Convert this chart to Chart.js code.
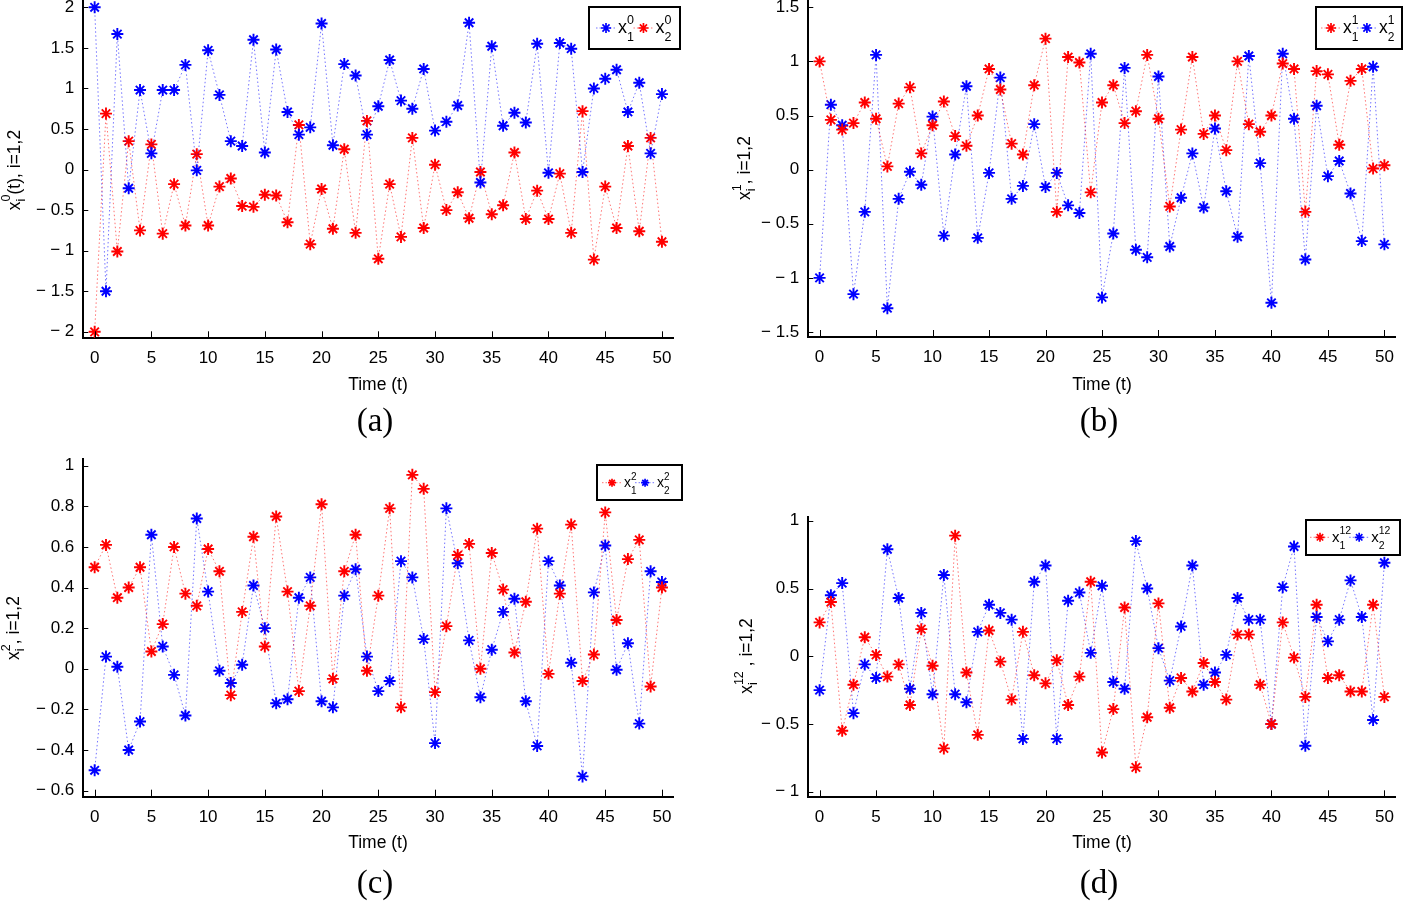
<!DOCTYPE html>
<html>
<head>
<meta charset="utf-8">
<script src="https://cdn.jsdelivr.net/npm/chart.js@4.4.0/dist/chart.umd.min.js"></script>
<style>
  body { margin: 0; background: #fff; width: 1404px; height: 901px; position: relative; overflow: hidden; }
  canvas { position: absolute; }
</style>
</head>
<body>
<canvas id="ca"></canvas>
<canvas id="cb"></canvas>
<canvas id="cc"></canvas>
<canvas id="cd"></canvas>
<script>
const time = [0,1,2,3,4,5,6,7,8,9,10,11,12,13,14,15,16,17,18,19,20,21,22,23,24,25,
  26,27,28,29,30,31,32,33,34,35,36,37,38,39,40,41,42,43,44,45,46,47,48,49,50];
const xTicks = [0, 5, 10, 15, 20, 25, 30, 35, 40, 45, 50];

// (a) x^0
const x1_0 = [2.0, -1.5, 1.67, -0.23, 0.98, 0.2, 0.98, 0.98, 1.29, -0.01, 1.47, 0.92, 0.35, 0.29, 1.6, 0.21,
  1.48, 0.71, 0.43, 0.52, 1.8, 0.3, 1.3, 1.16, 0.43, 0.78, 1.35, 0.85, 0.75, 1.24, 0.48, 0.59, 0.79, 1.81,
  -0.16, 1.52, 0.54, 0.7, 0.58, 1.55, -0.04, 1.56, 1.49, -0.03, 1.0, 1.12, 1.23, 0.71, 1.07, 0.2, 0.93];
const x2_0 = [-2.0, 0.69, -1.01, 0.35, -0.75, 0.31, -0.79, -0.18, -0.69, 0.19, -0.69, -0.21, -0.11, -0.45, -0.46, -0.31,
  -0.32, -0.65, 0.55, -0.92, -0.24, -0.73, 0.25, -0.78, 0.6, -1.1, -0.18, -0.83, 0.39, -0.72, 0.06, -0.5, -0.28, -0.6,
  -0.03, -0.55, -0.44, 0.21, -0.61, -0.26, -0.61, -0.05, -0.78, 0.72, -1.11, -0.21, -0.72, 0.29, -0.76, 0.39, -0.89];
const yTicksA = [-2, -1.5, -1, -0.5, 0, 0.5, 1, 1.5, 2];

// (b) x^1
const x1_1 = [1.0, 0.46, 0.37, 0.43, 0.62, 0.47, 0.03, 0.61, 0.76, 0.15, 0.41, 0.63, 0.31, 0.22, 0.5, 0.93,
  0.74, 0.24, 0.14, 0.78, 1.21, -0.39, 1.04, 0.99, -0.21, 0.62, 0.78, 0.43, 0.54, 1.06, 0.47, -0.34, 0.37, 1.04,
  0.33, 0.5, 0.18, 1.0, 0.42, 0.35, 0.5, 0.98, 0.93, -0.39, 0.91, 0.88, 0.23, 0.82, 0.93, 0.01, 0.04];
const x2_1 = [-1.0, 0.6, 0.41, -1.15, -0.39, 1.06, -1.28, -0.27, -0.02, -0.14, 0.49, -0.61, 0.14, 0.77, -0.63, -0.03,
  0.85, -0.27, -0.15, 0.42, -0.16, -0.03, -0.33, -0.4, 1.07, -1.18, -0.59, 0.94, -0.74, -0.81, 0.86, -0.71, -0.26, 0.15,
  -0.35, 0.38, -0.2, -0.62, 1.05, 0.06, -1.23, 1.07, 0.47, -0.83, 0.59, -0.06, 0.08, -0.22, -0.66, 0.95, -0.69];
const yTicksB = [-1.5, -1, -0.5, 0, 0.5, 1, 1.5];

// (c) x^2
const x1_2 = [0.5, 0.61, 0.35, 0.4, 0.5, 0.085, 0.22, 0.6, 0.37, 0.31, 0.59, 0.48, -0.13, 0.28, 0.65, 0.11,
  0.75, 0.38, -0.11, 0.31, 0.81, -0.05, 0.48, 0.66, -0.01, 0.36, 0.79, -0.19, 0.955, 0.886, -0.115, 0.21, 0.56, 0.615,
  0.0, 0.57, 0.39, 0.08, 0.33, 0.69, -0.025, 0.37, 0.71, -0.06, 0.07, 0.77, 0.24, 0.54, 0.635, -0.087, 0.4];
const x2_2 = [-0.5, 0.06, 0.01, -0.4, -0.26, 0.66, 0.11, -0.03, -0.23, 0.74, 0.38, -0.01, -0.07, 0.02, 0.41, 0.2,
  -0.17, -0.15, 0.35, 0.45, -0.16, -0.19, 0.36, 0.49, 0.06, -0.11, -0.06, 0.53, 0.45, 0.146, -0.366, 0.79, 0.52, 0.14,
  -0.14, 0.094, 0.28, 0.345, -0.16, -0.38, 0.53, 0.41, 0.03, -0.53, 0.376, 0.607, -0.005, 0.126, -0.27, 0.48, 0.427];
const yTicksC = [-0.6, -0.4, -0.2, 0, 0.2, 0.4, 0.6, 0.8, 1];

// (d) x^12
const x1_12 = [0.25, 0.4, -0.55, -0.21, 0.14, 0.01, -0.15, -0.06, -0.36, 0.2, -0.07, -0.68, 0.89, -0.12, -0.58, 0.19,
  -0.04, -0.32, 0.18, -0.14, -0.2, -0.03, -0.36, -0.15, 0.55, -0.71, -0.39, 0.36, -0.82, -0.45, 0.39, -0.38, -0.16, -0.26,
  -0.05, -0.19, -0.32, 0.16, 0.16, -0.21, -0.5, 0.25, -0.01, -0.3, 0.38, -0.16, -0.14, -0.26, -0.26, 0.38, -0.3];
const x2_12 = [-0.25, 0.45, 0.54, -0.42, -0.06, -0.16, 0.79, 0.43, -0.24, 0.32, -0.28, 0.6, -0.28, -0.34, 0.18, 0.38,
  0.32, 0.27, -0.61, 0.55, 0.67, -0.61, 0.41, 0.47, 0.025, 0.52, -0.19, -0.24, 0.85, 0.5, 0.06, -0.18, 0.22, 0.67,
  -0.21, -0.12, 0.01, 0.43, 0.27, 0.27, -0.5, 0.51, 0.81, -0.66, 0.29, 0.11, 0.27, 0.56, 0.29, -0.47, 0.69];
const yTicksD = [-1, -0.5, 0, 0.5, 1];

const RED = '#ff0000', BLUE = '#0000ff';
const SANS = '"Liberation Sans", Arial, sans-serif';

// page layout of the four panels
const panels = [
  { id: 'ca', cx: 0, cy: -20, w: 702, h: 480, L: 83.3, T: 0, R: 673.3, B: 338.3, ymin: -2.08, ymax: 2.09, yTicks: yTicksA,
    series: [{ data: x1_0, color: BLUE, sub: '1', sup: '0' }, { data: x2_0, color: RED, sub: '2', sup: '0' }],
    ySup: '0', yRest: '(t), i=1,2', yTitle: [19.5, 170], xTitle: [378, 385], caption: '(a)', cap: [375, 422],
    legend: { x: 589, y: 7, w: 91, h: 42, star: 17, mid: 28, base: 33, fs: 18, ss: 12.5, r: 5, gap: 9.5 } },
  { id: 'cb', cx: 702, cy: -20, w: 702, h: 480, L: 808.3, T: 0, R: 1397.7, B: 337, ymin: -1.546, ymax: 1.567, yTicks: yTicksB,
    series: [{ data: x1_1, color: RED, sub: '1', sup: '1' }, { data: x2_1, color: BLUE, sub: '2', sup: '1' }],
    ySup: '1', yRest: ', i=1,2', yTitle: [750, 168], xTitle: [1102, 385], caption: '(b)', cap: [1099, 422],
    legend: { x: 1316, y: 7, w: 86, h: 42, star: 15, mid: 28, base: 33, fs: 17.5, ss: 12, r: 5, gap: 8.5 } },
  { id: 'cc', cx: 0, cy: 438, w: 702, h: 463, L: 83.3, T: 458.6, R: 673.3, B: 796.7, ymin: -0.63, ymax: 1.035, yTicks: yTicksC,
    series: [{ data: x1_2, color: RED, sub: '1', sup: '2' }, { data: x2_2, color: BLUE, sub: '2', sup: '2' }],
    ySup: '2', yRest: ', i=1,2', yTitle: [19, 628], xTitle: [378, 843], caption: '(c)', cap: [375, 884],
    legend: { x: 597, y: 465, w: 85, h: 35, star: 15, mid: 482.7, base: 487, fs: 14, ss: 10, r: 4, gap: 8.5 } },
  { id: 'cd', cx: 702, cy: 438, w: 702, h: 463, L: 808.3, T: 516.7, R: 1397.7, B: 797.3, ymin: -1.041, ymax: 1.03, yTicks: yTicksD,
    series: [{ data: x1_12, color: RED, sub: '1', sup: '12' }, { data: x2_12, color: BLUE, sub: '2', sup: '12' }],
    ySup: '12', yRest: ' , i=1,2', yTitle: [752, 656], xTitle: [1102, 843], caption: '(d)', cap: [1099, 884],
    legend: { x: 1306, y: 520, w: 94, h: 35, star: 14, mid: 537.3, base: 541.5, fs: 15, ss: 10.5, r: 4.5, gap: 8 } }
];

function fade(c) {
  return c === RED ? 'rgba(255,0,0,0.55)' : 'rgba(0,0,255,0.55)';
}

function star(ctx, x, y, r) {
  ctx.beginPath();
  for (let k = 0; k < 4; k++) {
    const a = k * Math.PI / 4;
    ctx.moveTo(x - r * Math.cos(a), y - r * Math.sin(a));
    ctx.lineTo(x + r * Math.cos(a), y + r * Math.sin(a));
  }
  ctx.stroke();
}

function fmt(v) {
  const s = String(Math.round(v * 100) / 100);
  return v < 0 ? '\u2212 ' + s.slice(1) : s;
}

// ticks inside the axes, axis titles, caption and legend box
function decor(p) {
  return {
    id: 'decor',
    afterDraw(chart) {
      const ctx = chart.ctx, xs = chart.scales.x, ys = chart.scales.y;
      ctx.save();
      ctx.strokeStyle = '#000';
      ctx.lineWidth = 1;
      ctx.beginPath();
      xs.ticks.forEach(t => {
        const px = Math.round(xs.getPixelForValue(t.value)) + 0.5;
        ctx.moveTo(px, ys.bottom);
        ctx.lineTo(px, ys.bottom - 7);
      });
      ys.ticks.forEach(t => {
        const py = Math.round(ys.getPixelForValue(t.value)) + 0.5;
        ctx.moveTo(xs.left, py);
        ctx.lineTo(xs.left + 5, py);
      });
      ctx.stroke();

      ctx.translate(-p.cx, -p.cy);
      ctx.fillStyle = '#000';
      ctx.textAlign = 'center';
      ctx.textBaseline = 'middle';
      ctx.font = '17.5px ' + SANS;
      ctx.fillText('Time (t)', p.xTitle[0], p.xTitle[1]);
      ctx.font = '33px "Liberation Serif", serif';
      ctx.fillText(p.caption, p.cap[0], p.cap[1]);

      // rotated y title: x with stacked sup / sub
      const fs = 17.5, ss = 12.5;
      ctx.save();
      ctx.translate(p.yTitle[0], p.yTitle[1]);
      ctx.rotate(-Math.PI / 2);
      ctx.textAlign = 'left';
      ctx.textBaseline = 'alphabetic';
      ctx.font = fs + 'px ' + SANS;
      const wx = ctx.measureText('x').width, wr = ctx.measureText(p.yRest).width;
      ctx.font = ss + 'px ' + SANS;
      const ws = Math.max(ctx.measureText(p.ySup).width, ctx.measureText('i').width);
      let x = -(wx + ws + wr) / 2;
      ctx.font = fs + 'px ' + SANS;
      ctx.fillText('x', x, 0);
      x += wx;
      ctx.font = ss + 'px ' + SANS;
      ctx.fillText(p.ySup, x, -fs * 0.52);
      ctx.fillText('i', x, fs * 0.3);
      x += ws;
      ctx.font = fs + 'px ' + SANS;
      ctx.fillText(p.yRest, x, 0);
      ctx.restore();

      // legend
      const lg = p.legend;
      ctx.fillStyle = '#fff';
      ctx.fillRect(lg.x, lg.y, lg.w, lg.h);
      ctx.strokeStyle = '#000';
      ctx.lineWidth = 2;
      ctx.strokeRect(lg.x, lg.y, lg.w, lg.h);
      ctx.textAlign = 'left';
      ctx.textBaseline = 'alphabetic';
      let sx = lg.x + lg.star;
      p.series.forEach(s => {
        ctx.save();
        ctx.strokeStyle = fade(s.color);
        ctx.lineWidth = 1;
        ctx.setLineDash([1.5, 2]);
        ctx.beginPath();
        ctx.moveTo(sx - 10, lg.mid);
        ctx.lineTo(sx + 10, lg.mid);
        ctx.stroke();
        ctx.restore();
        ctx.strokeStyle = s.color;
        ctx.lineWidth = 1.7;
        star(ctx, sx, lg.mid, lg.r);
        let tx = sx + 12;
        ctx.fillStyle = '#000';
        ctx.font = lg.fs + 'px ' + SANS;
        ctx.fillText('x', tx, lg.base);
        tx += ctx.measureText('x').width;
        ctx.font = lg.ss + 'px ' + SANS;
        ctx.fillText(s.sup, tx, lg.base - lg.fs * 0.5);
        ctx.fillText(s.sub, tx, lg.base + lg.fs * 0.47);
        tx += Math.max(ctx.measureText(s.sup).width, ctx.measureText(s.sub).width);
        sx = tx + lg.gap;
      });
      ctx.restore();
    }
  };
}

panels.forEach(p => {
  const cv = document.getElementById(p.id);
  cv.width = p.w;
  cv.height = p.h;
  cv.style.left = p.cx + 'px';
  cv.style.top = p.cy + 'px';

  const datasets = p.series.map(s => ({
    data: time.map((t, i) => ({ x: t, y: s.data[i] })),
    borderColor: fade(s.color),
    borderWidth: 1,
    borderDash: [1.5, 2.5],
    pointStyle: 'star',
    pointRadius: 6,
    pointBorderWidth: 1.9,
    pointBorderColor: s.color,
    pointBackgroundColor: s.color,
    tension: 0,
    clip: false
  }));

  new Chart(cv, {
    type: 'line',
    data: { datasets: datasets },
    options: {
      responsive: false,
      animation: false,
      devicePixelRatio: 1,
      layout: { padding: { left: 0, top: p.T - p.cy, right: p.cx + p.w - p.R, bottom: 0 } },
      plugins: { legend: { display: false }, tooltip: { enabled: false } },
      scales: {
        x: {
          type: 'linear', min: -1, max: 51,
          afterBuildTicks: s => { s.ticks = xTicks.map(v => ({ value: v })); },
          afterFit: s => { s.height = p.cy + p.h - p.B; },
          grid: { display: false, drawTicks: false },
          border: { display: true, color: '#000', width: 2 },
          ticks: { color: '#000', font: { family: SANS, size: 17 }, padding: 10, maxRotation: 0, autoSkip: false }
        },
        y: {
          type: 'linear', min: p.ymin, max: p.ymax,
          afterBuildTicks: s => { s.ticks = p.yTicks.map(v => ({ value: v })); },
          afterFit: s => { s.width = p.L - p.cx; },
          grid: { display: false, drawTicks: false },
          border: { display: true, color: '#000', width: 2 },
          ticks: { color: '#000', font: { family: SANS, size: 17 }, padding: 9, callback: v => fmt(v) }
        }
      }
    },
    plugins: [decor(p)]
  });
});
</script>
</body>
</html>
